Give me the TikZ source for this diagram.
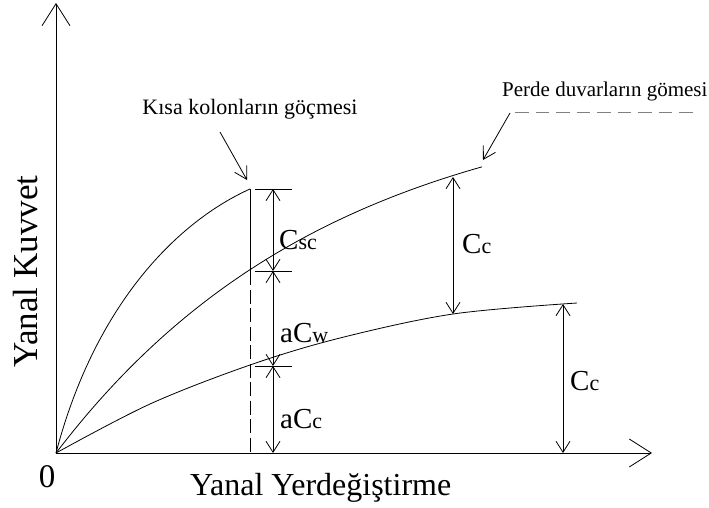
\documentclass[tikz,border=0pt]{standalone}
\usepackage{fontspec}
\setmainfont{Liberation Serif}
\usetikzlibrary{arrows.meta}
\begin{document}
\begin{tikzpicture}[x=1pt,y=-1pt,
  ln/.style={line width=0.8pt},
  axarrow/.style={line width=0.8pt,-{Straight Barb[length=22pt,width=28pt]}},
  dimarrow/.style={line width=0.8pt,{Straight Barb[length=11pt,width=14pt]}-{Straight Barb[length=11pt,width=14pt]}},
  ptr/.style={line width=0.8pt,-{Straight Barb[length=12pt,width=14pt]}},
  lbl/.style={inner sep=0pt,anchor=base west,font=\fontsize{29}{31}\selectfont},
]
\useasboundingbox (0,0) rectangle (709,508);
% axes
\coordinate (O) at (56,453);
\coordinate (ytop) at (56,3);
\coordinate (xend) at (652,453);
\draw[axarrow] (O) -- (ytop);
\draw[axarrow] (O) -- (xend);
% curves
\coordinate (c1end) at (250,189);
\draw[ln] (O) .. controls (96,301) and (180,220.5) .. (c1end);
\draw[ln] plot[domain=0:426,samples=80] ({56+\x},{453-365*(1-exp(-\x/278))});
\draw[ln] plot[smooth,tension=0.55] coordinates {(56,453) (150,404) (250,365) (340,338) (453,314) (577,303)};
% vertical line at short column failure
\coordinate (v2) at (250,271);
\coordinate (v3) at (250,453);
\draw[ln] (c1end) -- (v2);
\draw[ln,dash pattern=on 14pt off 4.5pt] (v2) -- (v3);
% ticks
\coordinate (t1l) at (255,189); \coordinate (t1r) at (292,189);
\coordinate (t2l) at (255,271); \coordinate (t2r) at (292,271);
\coordinate (t3l) at (255,366); \coordinate (t3r) at (292,366);
\draw[ln] (t1l) -- (t1r);
\draw[ln] (t2l) -- (t2r);
\draw[ln] (t3l) -- (t3r);
% dimension arrows
\coordinate (d1) at (273,189);
\coordinate (d2) at (273,271);
\coordinate (d3) at (273,366);
\coordinate (d4) at (273,453);
\draw[dimarrow] (d1) -- (d2);
\draw[dimarrow] (d2) -- (d3);
\draw[dimarrow] (d3) -- (d4);
\coordinate (m1) at (453,177);
\coordinate (m2) at (453,314);
\draw[dimarrow] (m1) -- (m2);
\coordinate (r1) at (563,304);
\coordinate (r2) at (563,453);
\draw[dimarrow] (r1) -- (r2);
% labels
\node[lbl] (csc) at (279,249) {C{\fontsize{22}{22}\selectfont sc}};
\node[lbl] (acw) at (280,342) {aC{\fontsize{22}{22}\selectfont w}};
\node[lbl] (acc) at (280,428) {aC{\fontsize{22}{22}\selectfont c}};
\node[lbl] (cc1) at (462,253) {C{\fontsize{22}{22}\selectfont c}};
\node[lbl] (cc2) at (570,390) {C{\fontsize{22}{22}\selectfont c}};
% annotations
\node[inner sep=0pt,anchor=base,font=\fontsize{22}{24}\selectfont] (kisa) at (250,114) {Kısa kolonların göçmesi};
\coordinate (k1) at (220,132);
\coordinate (k2) at (247,180);
\draw[ptr] (k1) -- (k2);
\node[inner sep=0pt,anchor=base west,font=\fontsize{21}{23}\selectfont] (perde) at (502,97) {Perde duvarların gömesi};
\coordinate (p0) at (510,113);
\coordinate (p1) at (515,113);
\coordinate (p2) at (693,113);
\coordinate (p3) at (483,160);
\draw[line width=1pt,gray,dash pattern=on 13.7pt off 6.8pt] (p1) -- (p2);
\draw[ptr] (p0) -- (p3);
% axis labels
\node[inner sep=0pt,anchor=base,font=\fontsize{33}{35}\selectfont] (zero) at (47,487) {0};
\node[inner sep=0pt,anchor=base west,font=\fontsize{32}{34}\selectfont] (xlab) at (190,495) {Yanal Yerdeğiştirme};
\node[inner sep=0pt,anchor=base,rotate=90,font=\fontsize{35}{37}\selectfont] (ylab) at (37,271.5) {Yanal Kuvvet};
\end{tikzpicture}
\end{document}
